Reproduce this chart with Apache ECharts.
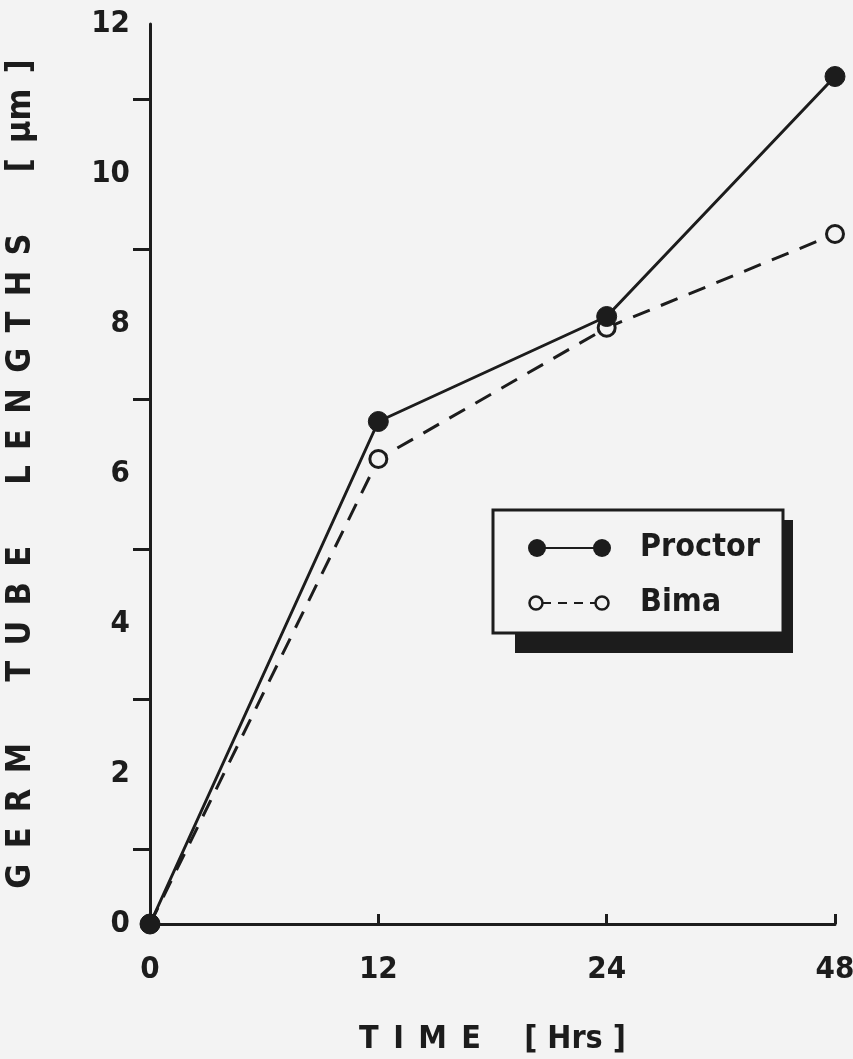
<!DOCTYPE html>
<html>
<head>
<meta charset="utf-8">
<script src="https://cdn.jsdelivr.net/npm/echarts@6/dist/echarts.min.js"></script>
<style>html,body{margin:0;padding:0;background:#f3f3f3;}#c{width:853px;height:1059px;}</style>
</head>
<body>
<div id="c"></div>
<script>
const categories = ['0', '12', '24', '48'];
const proctor = [0, 6.7, 8.1, 11.3];
const bima = [0, 6.2, 7.95, 9.2];
const yTicks = [0, 2, 4, 6, 8, 10, 12];

const FONT = '"Liberation Sans Narrow", "DejaVu Sans Condensed", sans-serif';
const INK = '#1c1c1c';
const EN = '\u2002', EM = '\u2003';
const spaced = w => w.split('').join(EN);
const yName = [spaced('GERM'), spaced('TUBE'), spaced('LENGTHS'), '[' + EN + 'µm' + EN + ']'].join(EM + EM);
const xName = spaced('TIME') + EM + EN + '[ Hrs ]';

const chart = echarts.init(document.getElementById('c'));
chart.setOption({
  backgroundColor: '#f3f3f3',
  animation: false,
  grid: { left: 150, right: 18, top: 24, bottom: 135, containLabel: false, outerBoundsMode: 'none' },
  xAxis: {
    type: 'category',
    data: categories,
    boundaryGap: false,
    name: xName,
    nameLocation: 'middle',
    nameGap: 100,
    nameTextStyle: { fontFamily: FONT, fontSize: 32, fontWeight: 'bold', color: INK },
    axisLine: { lineStyle: { color: INK, width: 3 } },
    axisTick: { inside: true, length: 10, lineStyle: { color: INK, width: 3 } },
    axisLabel: { fontFamily: FONT, fontSize: 31, fontWeight: 'bold', color: INK, margin: 30 },
    splitLine: { show: false }
  },
  yAxis: {
    type: 'value',
    min: 0, max: 12, interval: 2,
    name: yName,
    nameLocation: 'middle',
    nameGap: 112,
    nameTextStyle: { fontFamily: FONT, fontSize: 34, fontWeight: 'bold', color: INK },
    axisLine: { show: true, lineStyle: { color: INK, width: 3 } },
    axisTick: { length: 17, lineStyle: { color: INK, width: 3 } },
    minorTick: { show: true, splitNumber: 2, length: 17, lineStyle: { color: INK, width: 3 } },
    axisLabel: {
      fontFamily: FONT, fontSize: 31, fontWeight: 'bold', color: INK, margin: 20,
      formatter: v => yTicks.includes(v) ? String(v) : ''
    },
    splitLine: { show: false },
    minorSplitLine: { show: false }
  },
  series: [
    {
      name: 'Proctor', type: 'line', data: proctor,
      symbol: 'circle', symbolSize: 20,
      lineStyle: { color: INK, width: 3 },
      itemStyle: { color: INK, borderColor: INK, borderWidth: 1 },
      z: 3
    },
    {
      name: 'Bima', type: 'line', data: bima,
      symbol: 'circle', symbolSize: 17,
      lineStyle: { color: INK, width: 3, type: [18, 12] },
      itemStyle: { color: '#f3f3f3', borderColor: INK, borderWidth: 3 },
      z: 2
    }
  ],
  legend: { show: false },
  graphic: [
    { type: 'rect', shape: { x: 515, y: 520, width: 278, height: 133 }, style: { fill: INK }, z: 10 },
    { type: 'rect', shape: { x: 493, y: 510, width: 290, height: 123 }, style: { fill: '#f3f3f3', stroke: INK, lineWidth: 3 }, z: 11 },
    { type: 'line', shape: { x1: 537, y1: 548, x2: 602, y2: 548 }, style: { stroke: INK, lineWidth: 2 }, z: 12 },
    { type: 'circle', shape: { cx: 537, cy: 548, r: 9 }, style: { fill: INK }, z: 12 },
    { type: 'circle', shape: { cx: 602, cy: 548, r: 9 }, style: { fill: INK }, z: 12 },
    { type: 'text', x: 640, y: 548, style: { text: 'Proctor', fontFamily: FONT, fontSize: 32, fontWeight: 'bold', fill: INK, verticalAlign: 'middle' }, z: 12 },
    { type: 'line', shape: { x1: 542, y1: 603, x2: 596, y2: 603 }, style: { stroke: INK, lineWidth: 2, lineDash: [9, 7] }, z: 12 },
    { type: 'circle', shape: { cx: 536, cy: 603, r: 6.5 }, style: { fill: '#f3f3f3', stroke: INK, lineWidth: 2.5 }, z: 13 },
    { type: 'circle', shape: { cx: 602, cy: 603, r: 6.5 }, style: { fill: '#f3f3f3', stroke: INK, lineWidth: 2.5 }, z: 13 },
    { type: 'text', x: 640, y: 603, style: { text: 'Bima', fontFamily: FONT, fontSize: 32, fontWeight: 'bold', fill: INK, verticalAlign: 'middle' }, z: 12 }
  ]
});
</script>
</body>
</html>
